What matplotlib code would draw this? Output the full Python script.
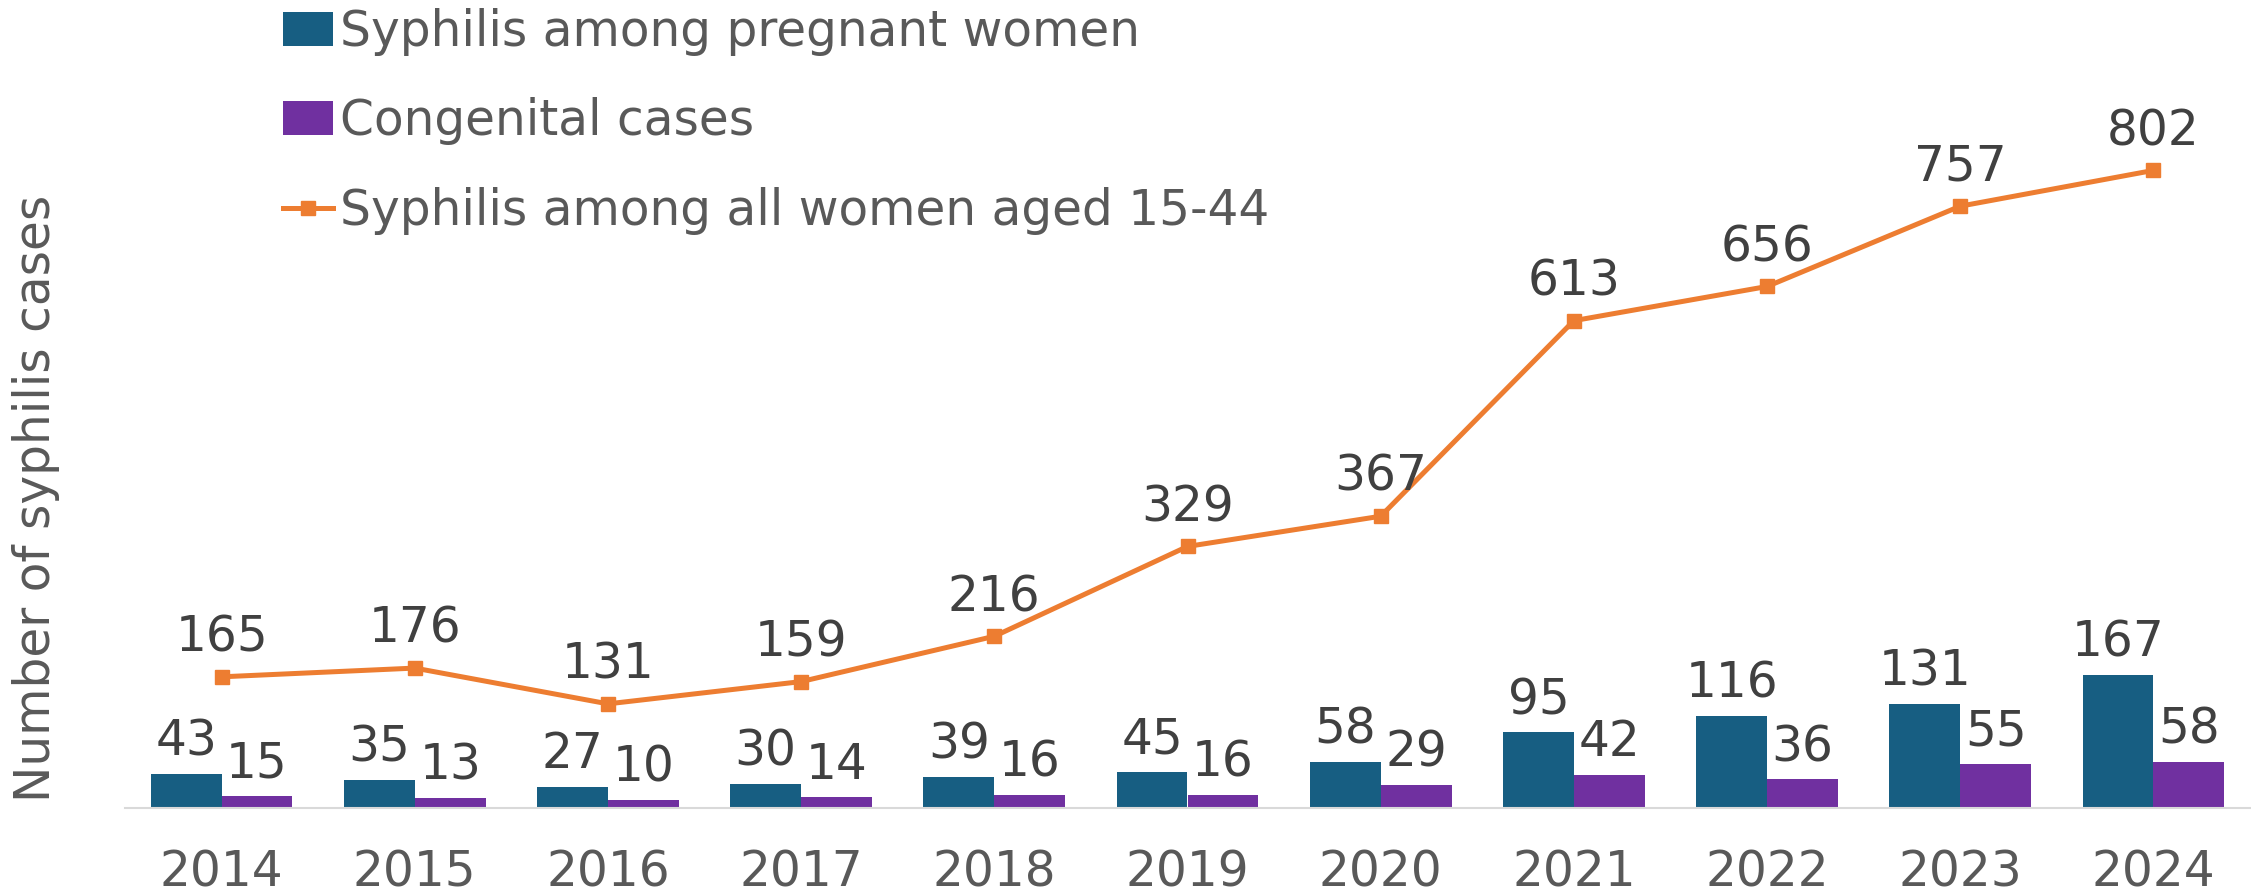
import matplotlib
matplotlib.use("Agg")
import matplotlib.pyplot as plt
import numpy as np

plt.rcParams['font.family'] = ['DejaVu Sans']

years = ["2014", "2015", "2016", "2017", "2018", "2019", "2020", "2021", "2022", "2023", "2024"]
pregnant = [43, 35, 27, 30, 39, 45, 58, 95, 116, 131, 167]
congenital = [15, 13, 10, 14, 16, 16, 29, 42, 36, 55, 58]
all_women = [165, 176, 131, 159, 216, 329, 367, 613, 656, 757, 802]

BLUE = "#175E82"
PURPLE = "#7030A0"
ORANGE = "#ED7D31"
TICK_C = "#595959"
LABEL_C = "#404040"

W, H = 2251, 893
fig = plt.figure(figsize=(W / 100, H / 100), dpi=100)

ymax = 900
px_per_unit = 0.795
ax_left, ax_right = 125, 2250
ax_bottom = 808
ax_top = ax_bottom - ymax * px_per_unit
ax = fig.add_axes([ax_left / W, (H - ax_bottom) / H, (ax_right - ax_left) / W, (ax_bottom - ax_top) / H])

x = np.arange(len(years))
bw = 0.367
b1 = ax.bar(x - bw / 2, pregnant, bw, color=BLUE, label="Syphilis among pregnant women", zorder=2)
b2 = ax.bar(x + bw / 2, congenital, bw, color=PURPLE, label="Congenital cases", zorder=2)
ln, = ax.plot(x, all_women, color=ORANGE, lw=3.6, marker="s", markersize=10.5,
              label="Syphilis among all women aged 15-44", zorder=3)

fs = 35
for xi, v in zip(x, pregnant):
    ax.annotate(str(v), (xi - bw / 2, v), xytext=(0, 6), textcoords="offset points",
                ha="center", va="bottom", fontsize=fs, color=LABEL_C)
for xi, v in zip(x, congenital):
    ax.annotate(str(v), (xi + bw / 2, v), xytext=(0, 6), textcoords="offset points",
                ha="center", va="bottom", fontsize=fs, color=LABEL_C)
for xi, v in zip(x, all_women):
    ax.annotate(str(v), (xi, v), xytext=(0, 11), textcoords="offset points",
                ha="center", va="bottom", fontsize=fs, color=LABEL_C)

ax.set_xlim(-0.5, len(years) - 0.5)
ax.set_ylim(0, ymax)
ax.set_xticks(x)
ax.set_xticklabels(years, fontsize=fs, color=TICK_C)
ax.tick_params(axis="x", length=0, pad=29)
ax.set_yticks([])
for s in ["top", "right", "left"]:
    ax.spines[s].set_visible(False)
ax.spines["bottom"].set_color("#D9D9D9")
ax.spines["bottom"].set_linewidth(1.5)

fig.text(36 / W, (H - 498) / H, "Number of syphilis cases", rotation=90, ha="center", va="center",
         fontsize=fs, color=TICK_C)

leg = fig.legend(handles=[b1, b2, ln], loc="upper left", bbox_to_anchor=(283 / W, 1 - 8 / H),
                 frameon=False, fontsize=fs, labelcolor=TICK_C, handlelength=1.03, handletextpad=0.14,
                 labelspacing=0.85, borderaxespad=0, borderpad=0)

fig.savefig("out.png", dpi=100)
